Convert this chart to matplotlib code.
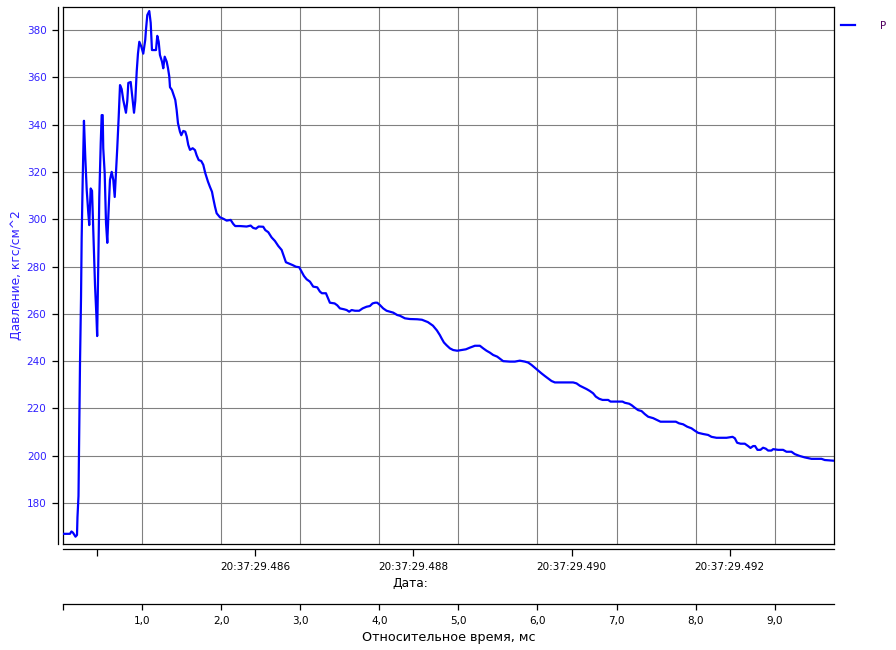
import matplotlib
matplotlib.use("Agg")
import matplotlib.pyplot as plt

# pressure trace, time in ms from start of record
t_ms = [0.000, 0.088, 0.107, 0.126, 0.158, 0.177, 0.183, 0.196, 0.205, 0.215,
        0.228, 0.236, 0.249, 0.265, 0.282, 0.300, 0.320, 0.332, 0.350, 0.367,
        0.379, 0.392, 0.405, 0.424, 0.432, 0.446, 0.459, 0.477, 0.489, 0.502,
        0.509, 0.527, 0.544, 0.560, 0.573, 0.594, 0.616, 0.636, 0.654, 0.670,
        0.686, 0.704, 0.721, 0.742, 0.762, 0.796, 0.813, 0.826, 0.856, 0.876,
        0.898, 0.914, 0.932, 0.948, 0.965, 0.990, 1.015, 1.040, 1.049, 1.066,
        1.091, 1.109, 1.125, 1.150, 1.176, 1.192, 1.210, 1.226, 1.252, 1.268,
        1.286, 1.311, 1.327, 1.344, 1.353, 1.378, 1.394, 1.420, 1.437, 1.454,
        1.479, 1.496, 1.521, 1.546, 1.564, 1.584, 1.606, 1.640, 1.669, 1.690,
        1.716, 1.748, 1.774, 1.799, 1.833, 1.858, 1.884, 1.900, 1.922, 1.943,
        1.985, 2.027, 2.070, 2.120, 2.153, 2.178, 2.238, 2.322, 2.373, 2.406,
        2.440, 2.474, 2.532, 2.558, 2.596, 2.638, 2.680, 2.722, 2.765, 2.794,
        2.819, 2.861, 2.904, 2.946, 2.987, 3.018, 3.047, 3.081, 3.123, 3.164,
        3.215, 3.249, 3.274, 3.325, 3.375, 3.435, 3.468, 3.502, 3.556, 3.587,
        3.619, 3.650, 3.692, 3.746, 3.789, 3.839, 3.881, 3.915, 3.948, 3.974,
        4.008, 4.049, 4.092, 4.134, 4.176, 4.226, 4.260, 4.324, 4.387, 4.479,
        4.539, 4.614, 4.678, 4.728, 4.766, 4.788, 4.817, 4.851, 4.893, 4.934,
        4.985, 5.040, 5.095, 5.145, 5.209, 5.272, 5.314, 5.356, 5.398, 5.440,
        5.491, 5.534, 5.566, 5.651, 5.714, 5.777, 5.841, 5.882, 5.925, 5.967,
        6.009, 6.052, 6.094, 6.135, 6.178, 6.220, 6.451, 6.494, 6.536, 6.578,
        6.621, 6.662, 6.704, 6.738, 6.780, 6.823, 6.894, 6.924, 7.076, 7.105,
        7.159, 7.190, 7.231, 7.273, 7.316, 7.358, 7.400, 7.463, 7.513, 7.556,
        7.750, 7.791, 7.842, 7.893, 7.948, 7.990, 8.032, 8.095, 8.158, 8.201,
        8.264, 8.391, 8.467, 8.496, 8.525, 8.568, 8.622, 8.664, 8.694, 8.727,
        8.752, 8.782, 8.820, 8.853, 8.887, 8.917, 8.959, 8.980, 9.043, 9.106,
        9.149, 9.212, 9.254, 9.317, 9.381, 9.465, 9.592, 9.633, 9.751]
p_kgf = [167.0, 167.0, 168.0, 167.5, 165.8, 166.5, 174.0, 183.0, 211.0, 239.0,
         267.0, 292.0, 316.6, 341.6, 326.0, 312.3, 302.6, 297.5, 313.0, 312.0,
         299.0, 285.7, 272.0, 258.0, 250.6, 280.0, 309.4, 332.0, 344.0, 344.0,
         330.0, 319.5, 298.4, 290.0, 301.0, 316.6, 320.0, 316.6, 309.4, 319.5,
         330.0, 343.0, 356.7, 355.0, 350.4, 345.0, 350.0, 357.6, 358.0, 352.0,
         345.0, 350.0, 362.4, 370.0, 375.0, 373.0, 370.0, 375.8, 380.0, 386.3,
         388.0, 383.0, 371.5, 371.5, 371.5, 377.5, 375.0, 369.4, 366.6, 363.8,
         368.7, 366.6, 364.0, 360.3, 355.8, 354.6, 353.0, 350.4, 346.2, 340.6,
         337.0, 335.5, 337.3, 337.0, 335.0, 331.4, 329.3, 330.0, 329.2, 327.0,
         325.0, 324.6, 323.0, 319.5, 315.9, 313.7, 311.6, 308.8, 305.3, 302.5,
         300.8, 300.2, 299.4, 299.7, 298.0, 297.1, 297.1, 296.9, 297.3, 296.3,
         296.0, 296.9, 296.8, 295.4, 294.5, 292.3, 290.8, 288.7, 287.0, 284.2,
         281.8, 281.2, 280.6, 279.9, 279.7, 277.8, 276.0, 274.6, 273.6, 271.5,
         271.2, 269.4, 268.7, 268.7, 264.7, 264.4, 263.6, 262.3, 261.9, 261.6,
         260.9, 261.6, 261.3, 261.3, 262.3, 263.0, 263.3, 264.4, 264.7, 264.7,
         263.7, 262.3, 261.3, 260.9, 260.5, 259.5, 259.2, 258.1, 257.8, 257.7,
         257.5, 256.5, 255.0, 253.0, 251.0, 249.6, 247.9, 246.7, 245.4, 244.7,
         244.4, 244.7, 245.0, 245.7, 246.5, 246.5, 245.4, 244.4, 243.6, 242.6,
         241.9, 240.8, 240.0, 239.8, 239.8, 240.2, 239.8, 239.4, 238.4, 237.2,
         236.0, 234.8, 233.7, 232.7, 231.6, 231.0, 231.0, 230.6, 229.6, 228.9,
         228.2, 227.4, 226.4, 225.0, 224.1, 223.6, 223.6, 222.9, 222.9, 222.4,
         222.0, 221.4, 220.3, 219.3, 218.9, 217.6, 216.5, 215.9, 215.1, 214.4,
         214.4, 213.7, 213.3, 212.3, 211.6, 210.6, 209.7, 209.2, 208.8, 208.0,
         207.6, 207.6, 208.0, 207.4, 205.5, 205.1, 205.1, 204.1, 203.3, 204.1,
         204.1, 202.5, 202.5, 203.4, 203.0, 202.2, 202.2, 202.8, 202.5, 202.5,
         201.7, 201.7, 200.7, 199.9, 199.3, 198.7, 198.7, 198.2, 197.9]

y_ticks = [180, 200, 220, 240, 260, 280, 300, 320, 340, 360, 380]
rel_ticks = [0, 1, 2, 3, 4, 5, 6, 7, 8, 9]
rel_labels = ["", "1,0", "2,0", "3,0", "4,0", "5,0", "6,0", "7,0", "8,0", "9,0"]
date_ticks = [0.432, 2.432, 4.432, 6.432, 8.432]
date_labels = ["", "20:37:29.486", "20:37:29.488", "20:37:29.490", "20:37:29.492"]

plt.rcParams["font.family"] = "DejaVu Sans"
blue_txt = "#3020ff"
grid_col = "#808080"

fig = plt.figure(figsize=(8.96, 6.5), dpi=100)
ax = fig.add_axes([63 / 896, 1 - 544 / 650, 771 / 896, 537 / 650])

ax.plot(t_ms, p_kgf, color="#0000ff", lw=1.6, label="P", zorder=3)
ax.set_xlim(0, 9.75)
ax.set_ylim(162.7, 389.7)

# grid
ax.set_axisbelow(True)
ax.set_yticks(y_ticks)
ax.set_xticks(rel_ticks[1:], minor=True)
ax.grid(True, which="major", axis="y", color=grid_col, lw=0.8)
ax.grid(True, which="minor", axis="x", color=grid_col, lw=0.8)
ax.tick_params(axis="x", which="minor", length=0)

# y axis sits a little left of the frame
ax.spines["left"].set_position(("outward", 3.6))
ax.spines["bottom"].set_position(("outward", 3.6))
for s in ax.spines.values():
    s.set_linewidth(0.9)
ax.plot([0, 0], [0, 1], transform=ax.transAxes, color="k", lw=0.9, clip_on=False)
ax.plot([0, 1], [0, 0], transform=ax.transAxes, color="k", lw=0.9, clip_on=False)

ax.tick_params(axis="y", colors="k", labelcolor=blue_txt, labelsize=7.5,
               length=4.3, width=0.9, pad=4)
ax.set_ylabel("Давление, кгс/см^2", color=blue_txt, fontsize=8.8)
ax.yaxis.set_label_coords(-0.052, 0.5)

# date axis
ax.set_xticks(date_ticks)
ax.set_xticklabels(date_labels)
ax.tick_params(axis="x", which="major", labelsize=7.5, length=5, width=0.9, pad=4)
ax.set_xlabel("Дата:", fontsize=8.8)
ax.xaxis.set_label_coords((410 - 63) / 771, -0.062)

# relative time axis
ax2 = ax.twiny()
ax2.set_xlim(0, 9.75)
ax2.xaxis.set_ticks_position("bottom")
ax2.xaxis.set_label_position("bottom")
ax2.spines["bottom"].set_position(("outward", 43.2))
ax2.spines["bottom"].set_linewidth(0.9)
for side in ["top", "left", "right"]:
    ax2.spines[side].set_visible(False)
ax2.set_xticks(rel_ticks)
ax2.set_xticklabels(rel_labels)
ax2.tick_params(axis="x", labelsize=7.5, length=4.3, width=0.9, pad=4.5)
ax2.set_xlabel("Относительное время, мс", fontsize=9.2)
ax2.xaxis.set_label_coords(0.5, -0.162)

leg = ax.legend(loc="upper left", bbox_to_anchor=(841 / 896, 1 - 21 / 650),
                bbox_transform=fig.transFigure, frameon=False, fontsize=7.5,
                borderpad=0, borderaxespad=0, handlelength=1.3, handletextpad=2.4)
for txt in leg.get_texts():
    txt.set_color("#500060")

fig.savefig("out.png", dpi=100, facecolor="white")
